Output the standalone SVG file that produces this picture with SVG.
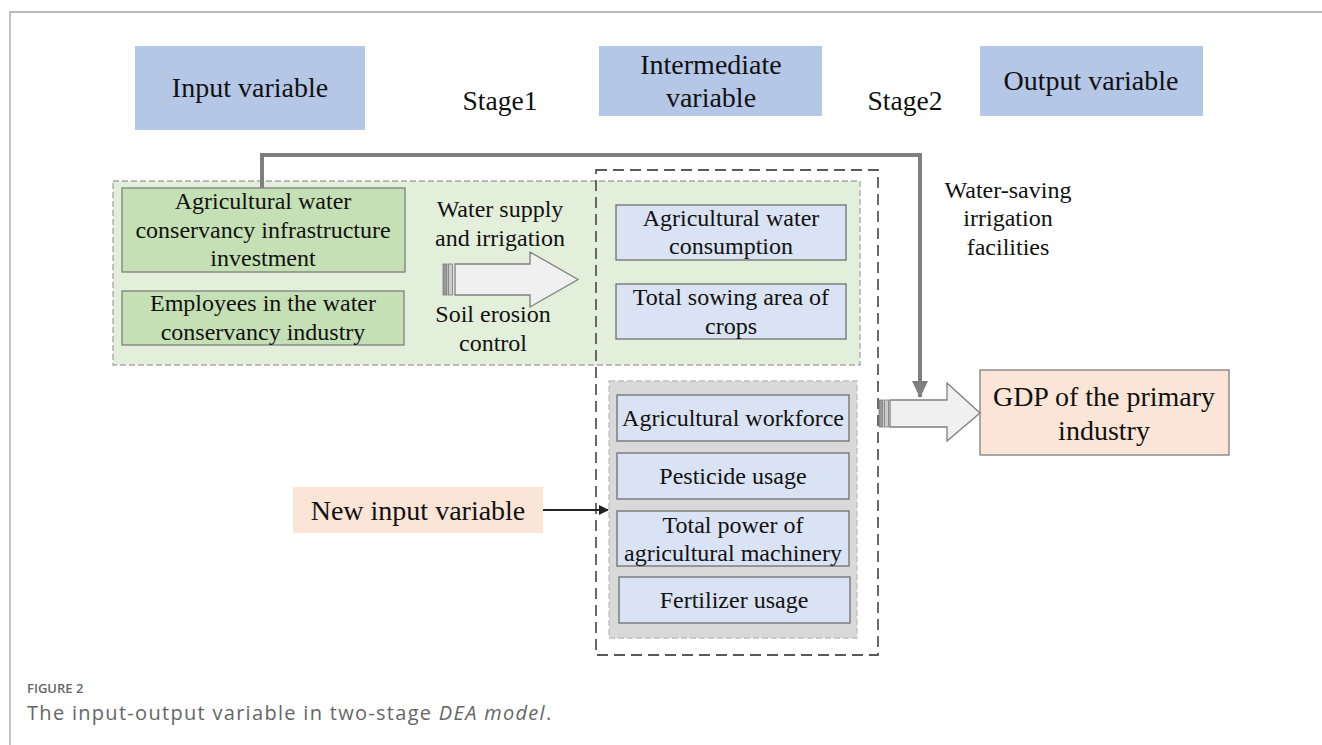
<svg xmlns="http://www.w3.org/2000/svg" width="1322" height="745" viewBox="0 0 1322 745">
<style>
.t{font-family:"Liberation Serif","Times New Roman",serif;fill:#111;text-anchor:middle;dominant-baseline:central}
.h{fill:#b4c7e7}
.g{fill:#c5e0b4;stroke:#7f7f7f;stroke-width:1.3}
.b{fill:#dae3f3;stroke:#6f6f6f;stroke-width:1.3}
.blk{fill:#f0f0f0;stroke:#7f7f7f;stroke-width:1.3}
.cap{font-family:"Open Sans","Liberation Sans",sans-serif;fill:#666}
</style>
<defs>
<marker id="ah" markerWidth="10" markerHeight="10" refX="9" refY="5" orient="auto" markerUnits="userSpaceOnUse">
<path d="M0,0 L10,5 L0,10 z" fill="#222"/>
</marker>
<marker id="ahg" markerWidth="18" markerHeight="16" refX="16" refY="8" orient="auto" markerUnits="userSpaceOnUse">
<path d="M0,0 L17,8 L0,16 z" fill="#7f7f7f"/>
</marker>
</defs>
<rect width="1322" height="745" fill="#fff"/>
<path d="M10,745 V12 H1322" fill="none" stroke="#a6a6a6" stroke-width="1.3"/>

<g id="header-input"><rect class="h" x="135" y="46" width="230" height="84"/><text class="t" x="250" y="87" font-size="28">Input variable</text></g>
<g id="stage1"><text class="t" x="500" y="100" font-size="27.5">Stage1</text></g>
<g id="header-intermediate"><rect class="h" x="599" y="46" width="223" height="70"/><text class="t" x="711" y="64" font-size="28">Intermediate</text><text class="t" x="711" y="97" font-size="28">variable</text></g>
<g id="stage2"><text class="t" x="905" y="100" font-size="27.5">Stage2</text></g>
<g id="header-output"><rect class="h" x="980" y="46" width="223" height="70"/><text class="t" x="1091" y="80" font-size="28">Output variable</text></g>

<g id="stage1-region"><rect x="113" y="181" width="747" height="184" fill="#e2efda" stroke="#a6a6a6" stroke-width="1.3" stroke-dasharray="6,3"/></g>

<g id="infra-investment"><rect class="g" x="122" y="188" width="283" height="84"/>
<text class="t" x="263" y="201" font-size="24">Agricultural water</text>
<text class="t" x="263" y="230" font-size="24">conservancy infrastructure</text>
<text class="t" x="263" y="258" font-size="24">investment</text></g>
<g id="employees"><rect class="g" x="122" y="291" width="282" height="54"/>
<text class="t" x="263" y="303" font-size="24">Employees in the water</text>
<text class="t" x="263" y="332" font-size="24">conservancy industry</text></g>

<g id="stage1-labels">
<text class="t" x="500" y="209" font-size="24">Water supply</text>
<text class="t" x="500" y="238" font-size="24">and irrigation</text>
<text class="t" x="493" y="314" font-size="24">Soil erosion</text>
<text class="t" x="493" y="343" font-size="24">control</text></g>

<g id="intermediate-box"><rect x="596" y="170" width="282" height="485" fill="none" stroke="#595959" stroke-width="1.8" stroke-dasharray="11,6"/></g>

<g id="water-consumption"><rect class="b" x="616" y="205" width="230" height="55"/>
<text class="t" x="731" y="218" font-size="24">Agricultural water</text>
<text class="t" x="731" y="246" font-size="24">consumption</text></g>
<g id="sowing-area"><rect class="b" x="616" y="284" width="230" height="55"/>
<text class="t" x="731" y="297" font-size="24">Total sowing area of</text>
<text class="t" x="731" y="326" font-size="24">crops</text></g>

<g id="new-input-region"><rect x="609" y="381" width="248" height="257" fill="#d9d9d9" stroke="#bfbfbf" stroke-width="1.3" stroke-dasharray="6,3"/></g>
<g id="workforce"><rect class="b" x="617" y="395" width="232" height="46"/><text class="t" x="733" y="418" font-size="24">Agricultural workforce</text></g>
<g id="pesticide"><rect class="b" x="617" y="453" width="232" height="46"/><text class="t" x="733" y="476" font-size="24">Pesticide usage</text></g>
<g id="machinery"><rect class="b" x="617" y="511" width="232" height="55"/>
<text class="t" x="733" y="525" font-size="24">Total power of</text>
<text class="t" x="733" y="553" font-size="24">agricultural machinery</text></g>
<g id="fertilizer"><rect class="b" x="619" y="577" width="231" height="46"/><text class="t" x="734" y="600" font-size="24">Fertilizer usage</text></g>

<g id="new-input"><rect x="293" y="487" width="250" height="46" fill="#fbe5d6"/><text class="t" x="418" y="510" font-size="28">New input variable</text></g>

<g id="gdp"><rect x="980" y="370" width="249" height="85" fill="#fbe5d6" stroke="#7f7f7f" stroke-width="1.3"/>
<text class="t" x="1104" y="396" font-size="28">GDP of the primary</text>
<text class="t" x="1104" y="430" font-size="28">industry</text></g>

<g id="water-saving-label">
<text class="t" x="1008" y="190" font-size="24">Water-saving</text>
<text class="t" x="1008" y="218" font-size="24">irrigation</text>
<text class="t" x="1008" y="247" font-size="24">facilities</text></g>

<g id="connectors">
<g id="block-arrow-1">
<rect x="443" y="264" width="4" height="31" fill="#999" stroke="#777" stroke-width="0.8"/>
<rect x="448.5" y="264" width="4" height="31" fill="#ccc" stroke="#777" stroke-width="0.8"/>
<path class="blk" d="M455,264 H530 V252 L578,279.5 L530,307 V295 H455 Z"/>
</g>
<g id="block-arrow-2">
<rect x="879" y="400" width="4" height="27" fill="#999" stroke="#777" stroke-width="0.8"/>
<rect x="884.5" y="400" width="4" height="27" fill="#ccc" stroke="#777" stroke-width="0.8"/>
<path class="blk" d="M890,400 H947 V383 L980,413 L947,441 V427 H890 Z"/>
</g>
<path d="M262,188 V155 H920 V397" fill="none" stroke="#7f7f7f" stroke-width="4" marker-end="url(#ahg)"/>
<line x1="543" y1="510" x2="608" y2="510" stroke="#222" stroke-width="2" marker-end="url(#ah)"/>
</g>

<g id="caption">
<text class="cap" x="27" y="693" font-size="13" font-weight="600">FIGURE 2</text>
<text class="cap" x="27" y="720" font-size="20" letter-spacing="1.3">The input-output variable in two-stage <tspan font-style="italic">DEA model</tspan>.</text>
</g>
</svg>
